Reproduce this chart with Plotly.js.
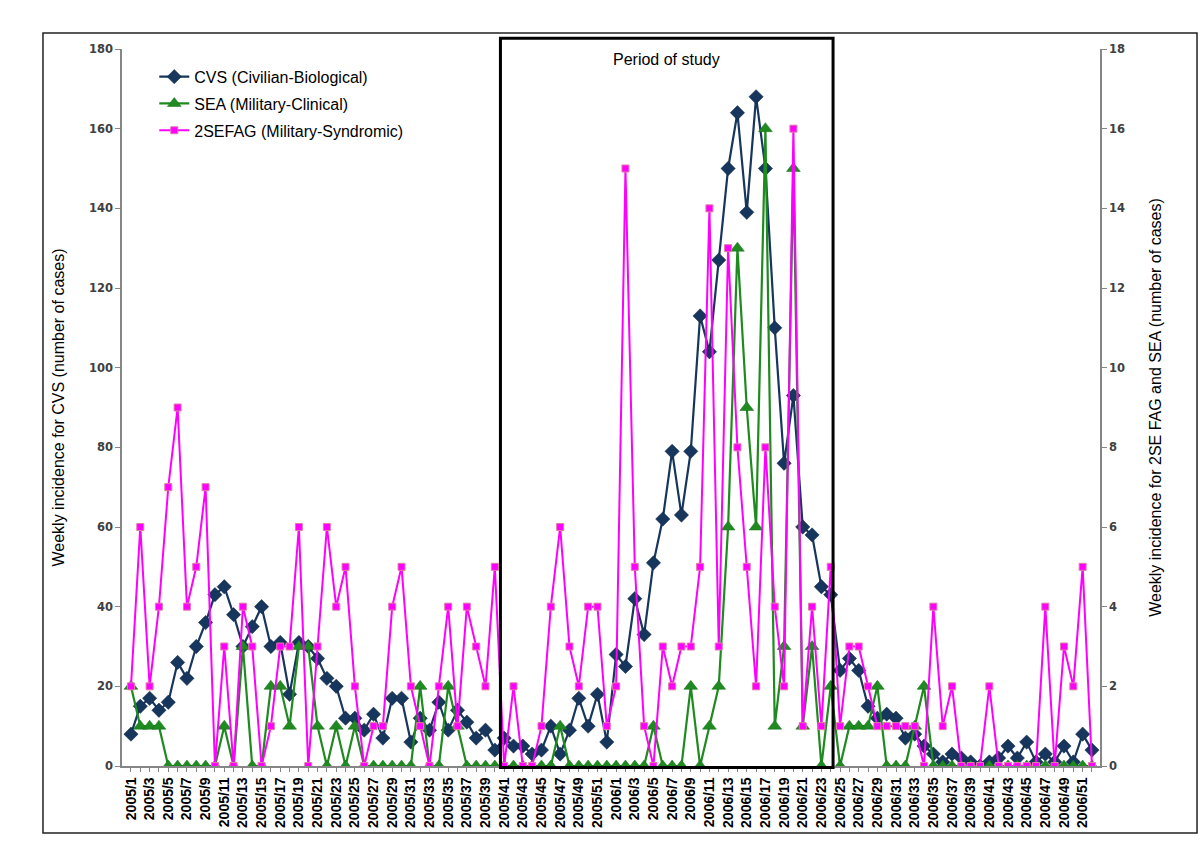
<!DOCTYPE html>
<html>
<head>
<meta charset="utf-8">
<script src="https://cdn.plot.ly/plotly-3.0.1.min.js"></script>
<style>
  html, body { margin: 0; padding: 0; background: #ffffff; }
  #chart { width: 1200px; height: 854px; }
</style>
</head>
<body>
<div id="chart"></div>
<script>
// Week labels 2005/1 ... 2006/52
const years = [2005, 2006];
const weeksPerYear = 52;
const weeks = [];
years.forEach(y => { for (let w = 1; w <= weeksPerYear; w++) weeks.push(y + '/' + w); });

// CVS (Civilian-Biological) weekly cases, left axis
const cvs = [
  8, 15, 17, 14, 16, 26, 22, 30, 36, 43, 45, 38, 30, 35, 40, 30, 31, 18, 31, 30,
  27, 22, 20, 12, 12, 9, 13, 7, 17, 17, 6, 12, 9, 16, 9, 14, 11, 7, 9, 4,
  7, 5, 5, 3, 4, 10, 3, 9, 17, 10, 18, 6,
  28, 25, 42, 33, 51, 62, 79, 63, 79, 113, 104, 127, 150, 164, 139, 168, 150, 110,
  76, 93, 60, 58, 45, 43, 24, 27, 24, 15, 12, 13, 12, 7, 8, 5, 3, 1, 3, 2,
  1, 0, 1, 2, 5, 2, 6, 1, 3, 1, 5, 1, 8, 4
];

// SEA (Military-Clinical) weekly cases, right axis
const sea = [
  2, 1, 1, 1, 0, 0, 0, 0, 0, 0, 1, 0, 3, 0, 0, 2, 2, 1, 3, 3,
  1, 0, 1, 0, 1, 0, 0, 0, 0, 0, 0, 2, 0, 0, 2, 1, 0, 0, 0, 0,
  0, 0, 0, 0, 0, 0, 1, 0, 0, 0, 0, 0,
  0, 0, 0, 0, 1, 0, 0, 0, 2, 0, 1, 2, 6, 13, 9, 6, 16, 1,
  3, 15, 1, 3, 0, 2, 0, 1, 1, 1, 2, 0, 0, 0, 1, 2, 0, 0, 0, 0,
  0, 0, 0, 0, 0, 0, 0, 0, 0, 0, 0, 0, 0, 0
];

// 2SEFAG (Military-Syndromic) weekly cases, right axis
const sefag = [
  2, 6, 2, 4, 7, 9, 4, 5, 7, 0, 3, 0, 4, 3, 0, 1, 3, 3, 6, 0,
  3, 6, 4, 5, 2, 0, 1, 1, 4, 5, 2, 1, 0, 2, 4, 1, 4, 3, 2, 5,
  0, 2, 0, 0, 1, 4, 6, 3, 2, 4, 4, 1,
  2, 15, 5, 1, 0, 3, 2, 3, 3, 5, 14, 3, 13, 8, 5, 2, 8, 4,
  2, 16, 1, 4, 1, 5, 1, 3, 3, 2, 1, 1, 1, 1, 1, 0, 4, 1, 2, 0,
  0, 0, 2, 0, 0, 0, 0, 0, 4, 0, 3, 2, 5, 0
];

const seriesNames = ['CVS (Civilian-Biological)', 'SEA (Military-Clinical)', '2SEFAG (Military-Syndromic)'];
const periodLabels = ['2005/41', '2006/24'];

const idx = weeks.map((_, i) => i);
const tickIdx = idx.filter(i => i % 2 === 0);
const tickText = tickIdx.map(i => weeks[i]);

const traces = [
  {
    x: idx, y: cvs, name: seriesNames[0], type: 'scatter', mode: 'lines+markers',
    yaxis: 'y', text: weeks, legendgroup: 'g1',
    line: { color: '#17365D', width: 2.2 },
    marker: { symbol: 'diamond', size: 11, color: '#17365D', line: { color: '#0E2440', width: 0.5 } }
  },
  {
    x: idx, y: sea, name: seriesNames[1], type: 'scatter', mode: 'lines+markers',
    yaxis: 'y2', text: weeks, legendgroup: 'g2',
    line: { color: '#1F8A1F', width: 2.2 },
    marker: { symbol: 'triangle-up', size: 12, color: '#1F8A1F', line: { color: '#15701A', width: 0.5 } }
  },
  {
    x: idx, y: sefag, name: seriesNames[2], type: 'scatter', mode: 'lines+markers',
    yaxis: 'y2', text: weeks, legendgroup: 'g3',
    line: { color: '#FF00FF', width: 2 },
    marker: { symbol: 'square', size: 7, color: '#FF00FF', line: { color: '#E07AA8', width: 1 } }
  }
];

const p0 = weeks.indexOf(periodLabels[0]) - 0.4;
const p1 = weeks.indexOf(periodLabels[1]) + 0.25;

const axisFont = { family: 'DejaVu Sans, Verdana, sans-serif', size: 11.5, color: '#404040', weight: 'bold' };

const layout = {
  width: 1200, height: 854,
  paper_bgcolor: '#ffffff', plot_bgcolor: '#ffffff',
  margin: { l: 122, r: 100, t: 49, b: 88 },
  showlegend: true,
  legend: {
    x: 0.033, y: 0.985, xanchor: 'left', yanchor: 'top',
    bgcolor: 'rgba(0,0,0,0)', borderwidth: 0,
    font: { family: 'Liberation Sans, Arial, sans-serif', size: 16, color: '#000000' },
    tracegroupgap: 3, itemwidth: 30
  },
  xaxis: {
    range: [-0.96, 103.86], showgrid: false, zeroline: false,
    tickmode: 'array', tickvals: tickIdx, ticktext: tickText, tickangle: -90,
    ticks: 'outside', ticklen: 4, tickcolor: '#868686',
    minor: { ticks: 'outside', ticklen: 4, dtick: 1, tick0: 0, tickcolor: '#868686', showgrid: false },
    showline: true, linecolor: '#868686', linewidth: 1.5,
    tickfont: { family: 'Liberation Sans, Arial, sans-serif', size: 14, color: '#000000', weight: 'bold' }
  },
  yaxis: {
    range: [0, 180], dtick: 20, showgrid: false, zeroline: false,
    showline: true, linecolor: '#868686', linewidth: 1.5,
    ticks: 'outside', ticklen: 5, tickcolor: '#868686',
    tickfont: axisFont,
    title: { text: 'Weekly incidence for CVS (number of cases)', standoff: 20,
             font: { family: 'Liberation Sans, Arial, sans-serif', size: 16, color: '#000000' } }
  },
  yaxis2: {
    range: [0, 18], dtick: 2, overlaying: 'y', side: 'right', showgrid: false, zeroline: false,
    showline: true, linecolor: '#868686', linewidth: 1.5,
    ticks: 'outside', ticklen: 5, tickcolor: '#868686',
    tickfont: axisFont,
    title: { text: 'Weekly incidence for 2SE FAG and SEA (number of cases)', standoff: 26,
             font: { family: 'Liberation Sans, Arial, sans-serif', size: 16, color: '#000000' } }
  },
  shapes: [
    { type: 'rect', xref: 'x', yref: 'paper', x0: p0, x1: p1, y0: -0.002, y1: 1.015,
      line: { color: '#000000', width: 3 }, fillcolor: 'rgba(0,0,0,0)', layer: 'above' },
    { type: 'rect', xref: 'paper', yref: 'paper', x0: -0.0808, x1: 1.0992, y0: -0.0934, y1: 1.0223,
      line: { color: '#222222', width: 1.5 }, fillcolor: 'rgba(0,0,0,0)', layer: 'below' }
  ],
  annotations: [
    { xref: 'x', yref: 'paper', x: (p0 + p1) / 2, y: 0.985, yanchor: 'middle', showarrow: false,
      text: 'Period of study', font: { family: 'Liberation Sans, Arial, sans-serif', size: 16, color: '#000000' } }
  ]
};

Plotly.newPlot('chart', traces, layout, { displayModeBar: false, responsive: false });
</script>
</body>
</html>
